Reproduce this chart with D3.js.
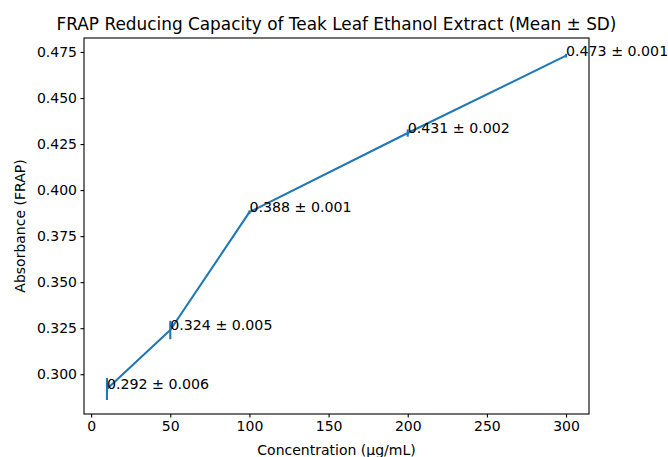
<!DOCTYPE html>
<html><head><meta charset="utf-8">
<script src="https://cdn.jsdelivr.net/npm/d3@7"></script>
<style>
body{margin:0;background:#fff;}
svg{display:block;font-family:"DejaVu Sans",sans-serif;}
</style></head>
<body>
<svg id="chart" width="668" height="457"></svg>
<script>
const concentrations = [10, 50, 100, 200, 300];
const meanAbsorbance = [0.292, 0.324, 0.388, 0.431, 0.473];
const sdAbsorbance = [0.006, 0.005, 0.001, 0.002, 0.001];
const xTicks = [0, 50, 100, 150, 200, 250, 300];
const yTicks = [0.300, 0.325, 0.350, 0.375, 0.400, 0.425, 0.450, 0.475];
const titleText = "FRAP Reducing Capacity of Teak Leaf Ethanol Extract (Mean ± SD)";
const xLabel = "Concentration (μg/mL)";
const yLabel = "Absorbance (FRAP)";

const data = concentrations.map((c, i) => ({x: c, y: meanAbsorbance[i], sd: sdAbsorbance[i]}));

const svg = d3.select("#chart");
const L = 84, R = 589, T = 38, B = 414;
const color = "#1f77b4";

const x = d3.scaleLinear().domain([-4.5, 314.5]).range([L, R]);
const y = d3.scaleLinear().domain([0.2784, 0.4826]).range([B, T]);

// axes
const xAxis = d3.axisBottom(x).tickValues(xTicks).tickSize(3.5).tickPadding(3.5).tickFormat(d3.format("d"));
const yAxis = d3.axisLeft(y).tickValues(yTicks).tickSize(3.5).tickPadding(3.5).tickFormat(d3.format(".3f"));

const gx = svg.append("g").attr("transform", `translate(0,${B})`).call(xAxis);
const gy = svg.append("g").attr("transform", `translate(${L},0)`).call(yAxis);
[gx, gy].forEach(g => {
  g.select(".domain").remove();
  g.selectAll("text").attr("font-family", "DejaVu Sans").attr("font-size", 14).attr("fill", "#000");
  g.selectAll("line").attr("stroke", "#000").attr("stroke-width", 1.1);
});

// line
svg.append("path").datum(data)
  .attr("fill", "none").attr("stroke", color).attr("stroke-width", 2.08)
  .attr("stroke-linejoin", "round")
  .attr("d", d3.line().x(d => x(d.x)).y(d => y(d.y)));

// error bars
svg.append("g").selectAll("line").data(data).join("line")
  .attr("x1", d => x(d.x)).attr("x2", d => x(d.x))
  .attr("y1", d => y(d.y - d.sd)).attr("y2", d => y(d.y + d.sd))
  .attr("stroke", color).attr("stroke-width", 2.08);

// frame
svg.append("rect").attr("x", L).attr("y", T).attr("width", R - L).attr("height", B - T)
  .attr("fill", "none").attr("stroke", "#000").attr("stroke-width", 1.1);

// annotations
svg.append("g").selectAll("text").data(data).join("text")
  .attr("x", d => x(d.x)).attr("y", d => y(d.y))
  .attr("font-size", 14.2).attr("fill", "#000")
  .text(d => `${d.y.toFixed(3)} ± ${d.sd.toFixed(3)}`);

// title and labels
svg.append("text").attr("x", (L + R) / 2).attr("y", 30).attr("text-anchor", "middle")
  .attr("font-size", 16.9).attr("fill", "#000").text(titleText);
svg.append("text").attr("x", (L + R) / 2).attr("y", 455).attr("text-anchor", "middle")
  .attr("font-size", 14).attr("fill", "#000").text(xLabel);
svg.append("text").attr("transform", `translate(25,${(T + B) / 2}) rotate(-90)`)
  .attr("text-anchor", "middle").attr("font-size", 14).attr("fill", "#000").text(yLabel);
</script>
</body></html>
